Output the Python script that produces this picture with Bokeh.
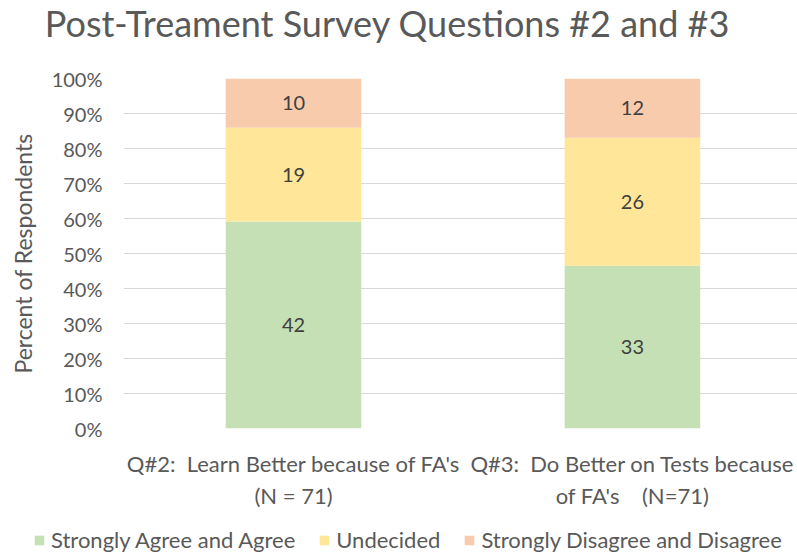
from bokeh.plotting import figure
from bokeh.layouts import column
from bokeh.models import (ColumnDataSource, Range1d, FixedTicker, NumeralTickFormatter,
                          Legend, LegendItem, LabelSet, Label)
from bokeh.core.properties import value
from bokeh.embed import file_html
from bokeh.resources import INLINE

# ---- data ----
NB = "\u00a0"
title_text = "Post-Treament Survey Questions #2 and #3"
categories = ["Q#2:" + NB + " Learn Better because of FA's\n(N = 71)",
              "Q#3:" + NB + " Do Better on Tests because\nof FA's" + NB * 3 + " (N=71)"]
agree = [42, 33]
undecided = [19, 26]
disagree = [10, 12]
series_names = ["Strongly Agree and Agree", "Undecided", "Strongly Disagree and Disagree"]
y_ticks = [0, 0.1, 0.2, 0.3, 0.4, 0.5, 0.6, 0.7, 0.8, 0.9, 1.0]

colors = ["#C5E0B4", "#FFE699", "#F8CBAD"]
FONT = "Lato"
GREY = "#595959"
W = 797
H_T, H_P, H_L = 50, 472, 35

xs = [0.5 + i for i in range(len(categories))]
totals = [a + u + d for a, u, d in zip(agree, undecided, disagree)]
pa = [a / t for a, t in zip(agree, totals)]
pu = [u / t for u, t in zip(undecided, totals)]
pd_ = [d / t for d, t in zip(disagree, totals)]

src = ColumnDataSource(dict(x=xs, a=pa, u=pu, d=pd_))


def no_align(f):
    if "frame_align" in f.properties():
        f.frame_align = False
    return f


def bare(h):
    f = figure(width=W, height=h, output_backend="svg", toolbar_location=None,
               x_range=Range1d(0, 1), y_range=Range1d(0, 1),
               x_axis_location=None, y_axis_location=None, min_border=0)
    f.grid.visible = False
    f.outline_line_color = None
    return no_align(f)


# ---- title strip ----
ft = bare(H_T)
ft.add_layout(Label(x=387, y=H_T - 22, x_units="screen", y_units="screen", text=title_text,
                    text_align="center", text_baseline="middle", text_font=FONT,
                    text_font_size="36px", text_color=GREY))

# ---- main chart ----
p = figure(width=W, height=H_P, output_backend="svg", toolbar_location=None,
           x_range=Range1d(-0.0015, 1.987), y_range=Range1d(0, 1),
           min_border_left=123, min_border_right=0, min_border_top=78 - H_T,
           min_border_bottom=H_P - (428 - H_T))
p.outline_line_color = None
no_align(p)

renderers = p.vbar_stack(["a", "u", "d"], x="x", width=0.4, source=src,
                         color=colors, line_color=None)

lab_x, lab_y, lab_t = [], [], []
for i in range(len(categories)):
    base = 0.0
    for vals, cnts in ((pa, agree), (pu, undecided), (pd_, disagree)):
        lab_x.append(xs[i])
        lab_y.append(base + vals[i] / 2)
        lab_t.append(str(cnts[i]))
        base += vals[i]
lsrc = ColumnDataSource(dict(x=lab_x, y=lab_y, t=lab_t))
p.add_layout(LabelSet(x="x", y="y", text="t", source=lsrc, text_align="center",
                      text_baseline="middle", text_font=value(FONT), text_font_size="20px",
                      text_color="#404040"))

yax = p.yaxis[0]
yax.ticker = FixedTicker(ticks=y_ticks)
yax.formatter = NumeralTickFormatter(format="0%")
yax.axis_line_color = None
yax.major_tick_line_color = None
yax.minor_tick_line_color = None
yax.major_tick_out = 0
yax.major_tick_in = 0
yax.minor_tick_out = 0
yax.major_label_standoff = 21
yax.major_label_text_font = FONT
yax.major_label_text_font_size = "20px"
yax.major_label_text_color = GREY
yax.axis_label = "Percent of Respondents"
yax.axis_label_text_font = FONT
yax.axis_label_text_font_size = "23px"
yax.axis_label_text_font_style = "normal"
yax.axis_label_text_color = GREY
yax.axis_label_standoff = 12

xax = p.xaxis[0]
xax.ticker = FixedTicker(ticks=xs)
xax.major_label_overrides = {x: c for x, c in zip(xs, categories)}
xax.axis_line_color = None
xax.major_tick_line_color = None
xax.minor_tick_line_color = None
xax.major_tick_out = 0
xax.major_tick_in = 0
xax.major_label_standoff = 21
xax.major_label_text_font = FONT
xax.major_label_text_font_size = "22px"
xax.major_label_text_color = GREY

p.xgrid.grid_line_color = None
p.ygrid.ticker = FixedTicker(ticks=y_ticks)
p.ygrid.grid_line_color = "#D9D9D9"
p.ygrid.grid_line_width = 1

# ---- legend strip ----
fl = bare(H_L)
lr = fl.vbar_stack(["a", "u", "d"], x="x", width=0.4, source=src,
                   color=colors, line_color=None)
for r in lr:
    r.visible = False
legend = Legend(items=[LegendItem(label=n, renderers=[r]) for n, r in zip(series_names, lr)],
                orientation="horizontal", location=(33, 4),
                glyph_width=12, glyph_height=12, label_standoff=6, spacing=23,
                padding=0, margin=0, border_line_color=None, background_fill_alpha=0,
                inactive_fill_alpha=0,
                label_text_font=FONT, label_text_font_size="22px", label_text_color=GREY)
fl.add_layout(legend, "center")

layout = column(ft, p, fl, spacing=0)
open("out.html", "w").write(file_html(layout, INLINE))
